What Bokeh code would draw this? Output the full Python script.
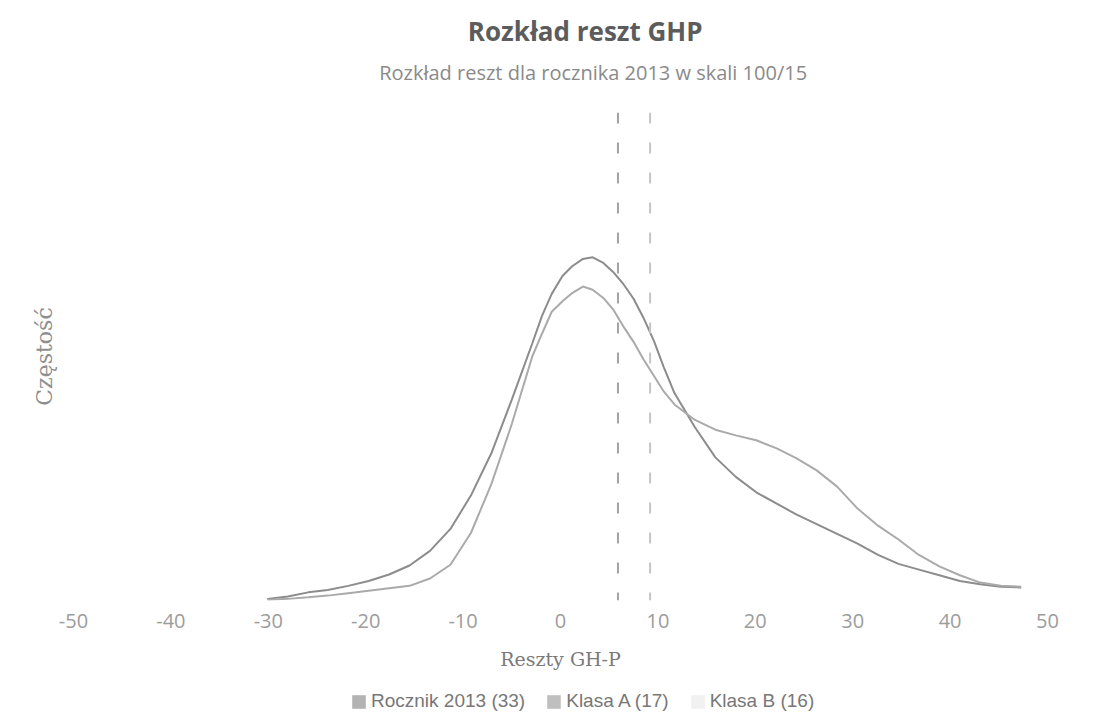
import numpy as np
from bokeh.plotting import figure
from bokeh.layouts import column
from bokeh.models import Span, Legend, LegendItem, Label, FixedTicker, Range1d, ColumnDataSource
from bokeh.embed import file_html
from bokeh.resources import INLINE

# ---- data ----
x_vals = [-30.1, -28.0, -25.9, -23.9, -21.8, -19.7, -17.6, -15.5, -13.4, -11.3, -9.2, -7.1,
          -5.0, -2.9, -1.9, -0.9, 0.2, 1.2, 2.3, 3.3, 4.4, 5.4, 6.4, 7.5, 8.5, 9.6, 10.6,
          11.7, 13.8, 15.9, 18.0, 20.1, 22.2, 24.2, 26.3, 28.4, 30.5, 32.6, 34.7, 36.8,
          38.9, 41.0, 43.1, 45.2, 47.3]
rocznik_2013 = [0.0002, 0.0005, 0.0010, 0.0013, 0.0018, 0.0024, 0.0032, 0.0043, 0.0061, 0.0088,
                0.0129, 0.0181, 0.0247, 0.0316, 0.0350, 0.0377, 0.0399, 0.0411, 0.0420, 0.0422,
                0.0415, 0.0404, 0.0390, 0.0371, 0.0348, 0.0319, 0.0287, 0.0255, 0.0213, 0.0176,
                0.0152, 0.0133, 0.0119, 0.0106, 0.0094, 0.0082, 0.0070, 0.0056, 0.0045, 0.0038,
                0.0031, 0.0024, 0.0020, 0.0017, 0.0016]
klasa_a = [0.0001, 0.0002, 0.0004, 0.0006, 0.0009, 0.0012, 0.0015, 0.0018, 0.0027, 0.0044,
           0.0083, 0.0143, 0.0217, 0.0300, 0.0328, 0.0355, 0.0368, 0.0378, 0.0386, 0.0382,
           0.0372, 0.0358, 0.0338, 0.0318, 0.0297, 0.0276, 0.0257, 0.0241, 0.0222, 0.0210,
           0.0203, 0.0197, 0.0187, 0.0175, 0.0160, 0.0140, 0.0113, 0.0092, 0.0075, 0.0056,
           0.0042, 0.0031, 0.0022, 0.0018, 0.0017]
mean_lines = [5.9, 9.2]
series_names = ["Rocznik 2013 (33)", "Klasa A (17)", "Klasa B (16)"]
x_ticks = [-50, -40, -30, -20, -10, 0, 10, 20, 30, 40, 50]

title_text = "Rozkład reszt GHP"
subtitle_text = "Rozkład reszt dla rocznika 2013 w skali 100/15"
x_title = "Reszty GH-P"
y_title = "Częstość"

# ---- styles ----
curve_colors = ["#8c8c8c", "#aaaaaa"]
marker_colors = ["#b3b3b3", "#bfbfbf", "#f1f1f1"]
mean_colors = ["#a3a3a3", "#c4c4c4"]
W = 1104

# ---- header strip (title + subtitle), pixel-like coordinates, y downwards ----
hd = figure(width=W, height=112, output_backend="svg", toolbar_location=None,
            x_range=Range1d(0, W), y_range=Range1d(112, 0),
            x_axis_type=None, y_axis_type=None, min_border=0)
hd.title = None
hd.outline_line_color = None
hd.xgrid.visible = False
hd.ygrid.visible = False
hd.add_layout(Label(x=580, y=30, text=title_text, text_align="center", text_baseline="middle",
                    text_font="Open Sans", text_font_size="26px", text_font_style="bold",
                    text_color="#5c5c5c"))
hd.add_layout(Label(x=589, y=72, text=subtitle_text, text_align="center", text_baseline="middle",
                    text_font="Open Sans", text_font_size="20px", text_color="#8a8a8a"))

# ---- main chart ----
p = figure(width=W, height=574, output_backend="svg", toolbar_location=None,
           x_range=Range1d(-50, 50), y_range=Range1d(0, 0.06),
           min_border_left=73, min_border_right=57, min_border_top=0, min_border_bottom=86)
p.title = None
p.outline_line_color = None
p.xgrid.visible = False
p.ygrid.visible = False

src = ColumnDataSource(dict(x=x_vals, r=rocznik_2013, a=klasa_a))
p.line("x", "r", source=src, line_color=curve_colors[0], line_width=2)
p.line("x", "a", source=src, line_color=curve_colors[1], line_width=2)

for m, c in zip(mean_lines, mean_colors):
    p.add_layout(Span(location=m, dimension="height", line_color=c, line_width=2,
                      line_dash="11 19"))

p.xaxis.ticker = FixedTicker(ticks=x_ticks)
p.xaxis.major_label_overrides = {t: str(t) for t in x_ticks}
p.xaxis.axis_line_color = None
p.xaxis.major_tick_line_color = None
p.xaxis.minor_tick_line_color = None
p.xaxis.major_tick_out = 0
p.xaxis.major_label_standoff = 13
p.xaxis.major_label_text_font = "Open Sans"
p.xaxis.major_label_text_font_size = "20px"
p.xaxis.major_label_text_color = "#9c9c9c"
p.xaxis.axis_label = x_title
p.xaxis.axis_label_text_font = "DejaVu Serif"
p.xaxis.axis_label_text_font_size = "19px"
p.xaxis.axis_label_text_font_style = "normal"
p.xaxis.axis_label_text_color = "#7a7a7a"
p.xaxis.axis_label_standoff = 17

p.yaxis.ticker = FixedTicker(ticks=[])
p.yaxis.axis_line_color = None
p.yaxis.major_tick_line_color = None
p.yaxis.minor_tick_line_color = None
p.yaxis.axis_label = y_title
p.yaxis.axis_label_text_font = "DejaVu Serif"
p.yaxis.axis_label_text_font_size = "22px"
p.yaxis.axis_label_text_font_style = "normal"
p.yaxis.axis_label_text_color = "#8e8e8e"
p.yaxis.axis_label_standoff = 17

# ---- legend strip ----
lg = figure(width=W, height=26, output_backend="svg", toolbar_location=None,
            x_range=Range1d(0, 1), y_range=Range1d(0, 1),
            x_axis_type=None, y_axis_type=None, min_border=0)
lg.title = None
lg.xgrid.visible = False
lg.ygrid.visible = False
lg.outline_line_color = None
leg_renderers = [lg.quad(left=[np.nan], right=[np.nan], bottom=[np.nan], top=[np.nan],
                         fill_color=c, line_color=None) for c in marker_colors]
legend = Legend(items=[LegendItem(label=n, renderers=[r]) for n, r in zip(series_names, leg_renderers)],
                orientation="horizontal", location=(277, 0),
                border_line_color=None, background_fill_alpha=0,
                label_text_font="Liberation Sans", label_text_font_size="19px",
                label_text_color="#777777", glyph_width=17, glyph_height=17,
                label_standoff=4, spacing=20, margin=0, padding=0)
lg.add_layout(legend)

page = column(hd, p, lg, spacing=0)
open("out.html", "w").write(file_html(page, INLINE))
